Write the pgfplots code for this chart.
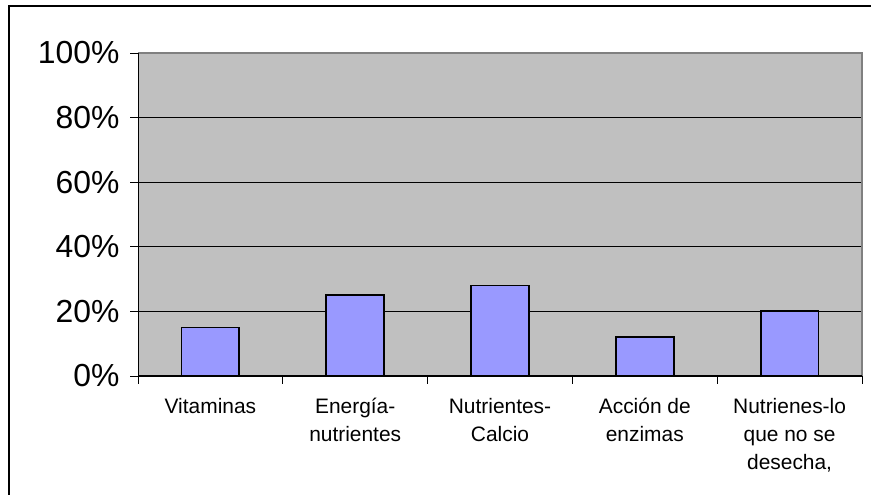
\documentclass[border=0pt]{standalone}
\usepackage{pgfplots}
\pgfplotsset{compat=1.18}
\usepackage{fontspec}
\setmainfont{Liberation Sans}
\definecolor{plotgray}{HTML}{C0C0C0}
\definecolor{barblue}{HTML}{9999FF}
\definecolor{edgegray}{HTML}{808080}

\begin{document}
\begin{tikzpicture}[x=1bp,y=1bp]
\path[use as bounding box] (0,0) rectangle (871,495);
\draw[line width=1.2bp] (9,-5) -- (9,489) -- (880,489);
\begin{axis}[
    at={(138bp,119bp)}, anchor=south west,
    scale only axis, width=724bp, height=323bp,
    xmin=-0.5, xmax=4.5, ymin=0, ymax=100,
    axis background/.style={fill=plotgray},
    axis line style={draw=none},
    xtick pos=lower, ytick pos=left,
    ytick={0,20,...,100},
    yticklabels={0\%,20\%,40\%,60\%,80\%,100\%},
    ymajorgrids, grid style={black, line width=0.8bp},
    xtick={-0.5,0.5,...,4.5},
    xticklabels={},
    extra x ticks={0,1,2,3,4},
    extra x tick labels={Vitaminas,{Energía-\\nutrientes},{Nutrientes-\\Calcio},{Acción de\\enzimas},{Nutrienes-lo\\que no se\\desecha,}},
    extra x tick style={major tick length=0pt, xticklabel style={yshift=-19bp}},
    tick align=outside, major tick length=8bp,
    tick style={black, line width=0.8bp},
    xticklabel style={font=\fontsize{21}{28}\selectfont, align=center},
    yticklabel style={font=\fontsize{32}{38}\selectfont, xshift=-7bp},
    clip=false,
]
\addplot[ybar, bar width=0.4, fill=barblue, draw=black, line width=1.8bp]
    coordinates {(0,15) (1,25) (2,28) (3,12) (4,20)};
\draw[edgegray, line width=1.5bp] (rel axis cs:0,1) -- (rel axis cs:1,1) -- (rel axis cs:1,0);
\draw[black, line width=0.8bp] (rel axis cs:0,0) -- (rel axis cs:0,1);
\draw[black, line width=1bp] (rel axis cs:0,0) -- (rel axis cs:1,0);
\end{axis}
\end{tikzpicture}
\end{document}
